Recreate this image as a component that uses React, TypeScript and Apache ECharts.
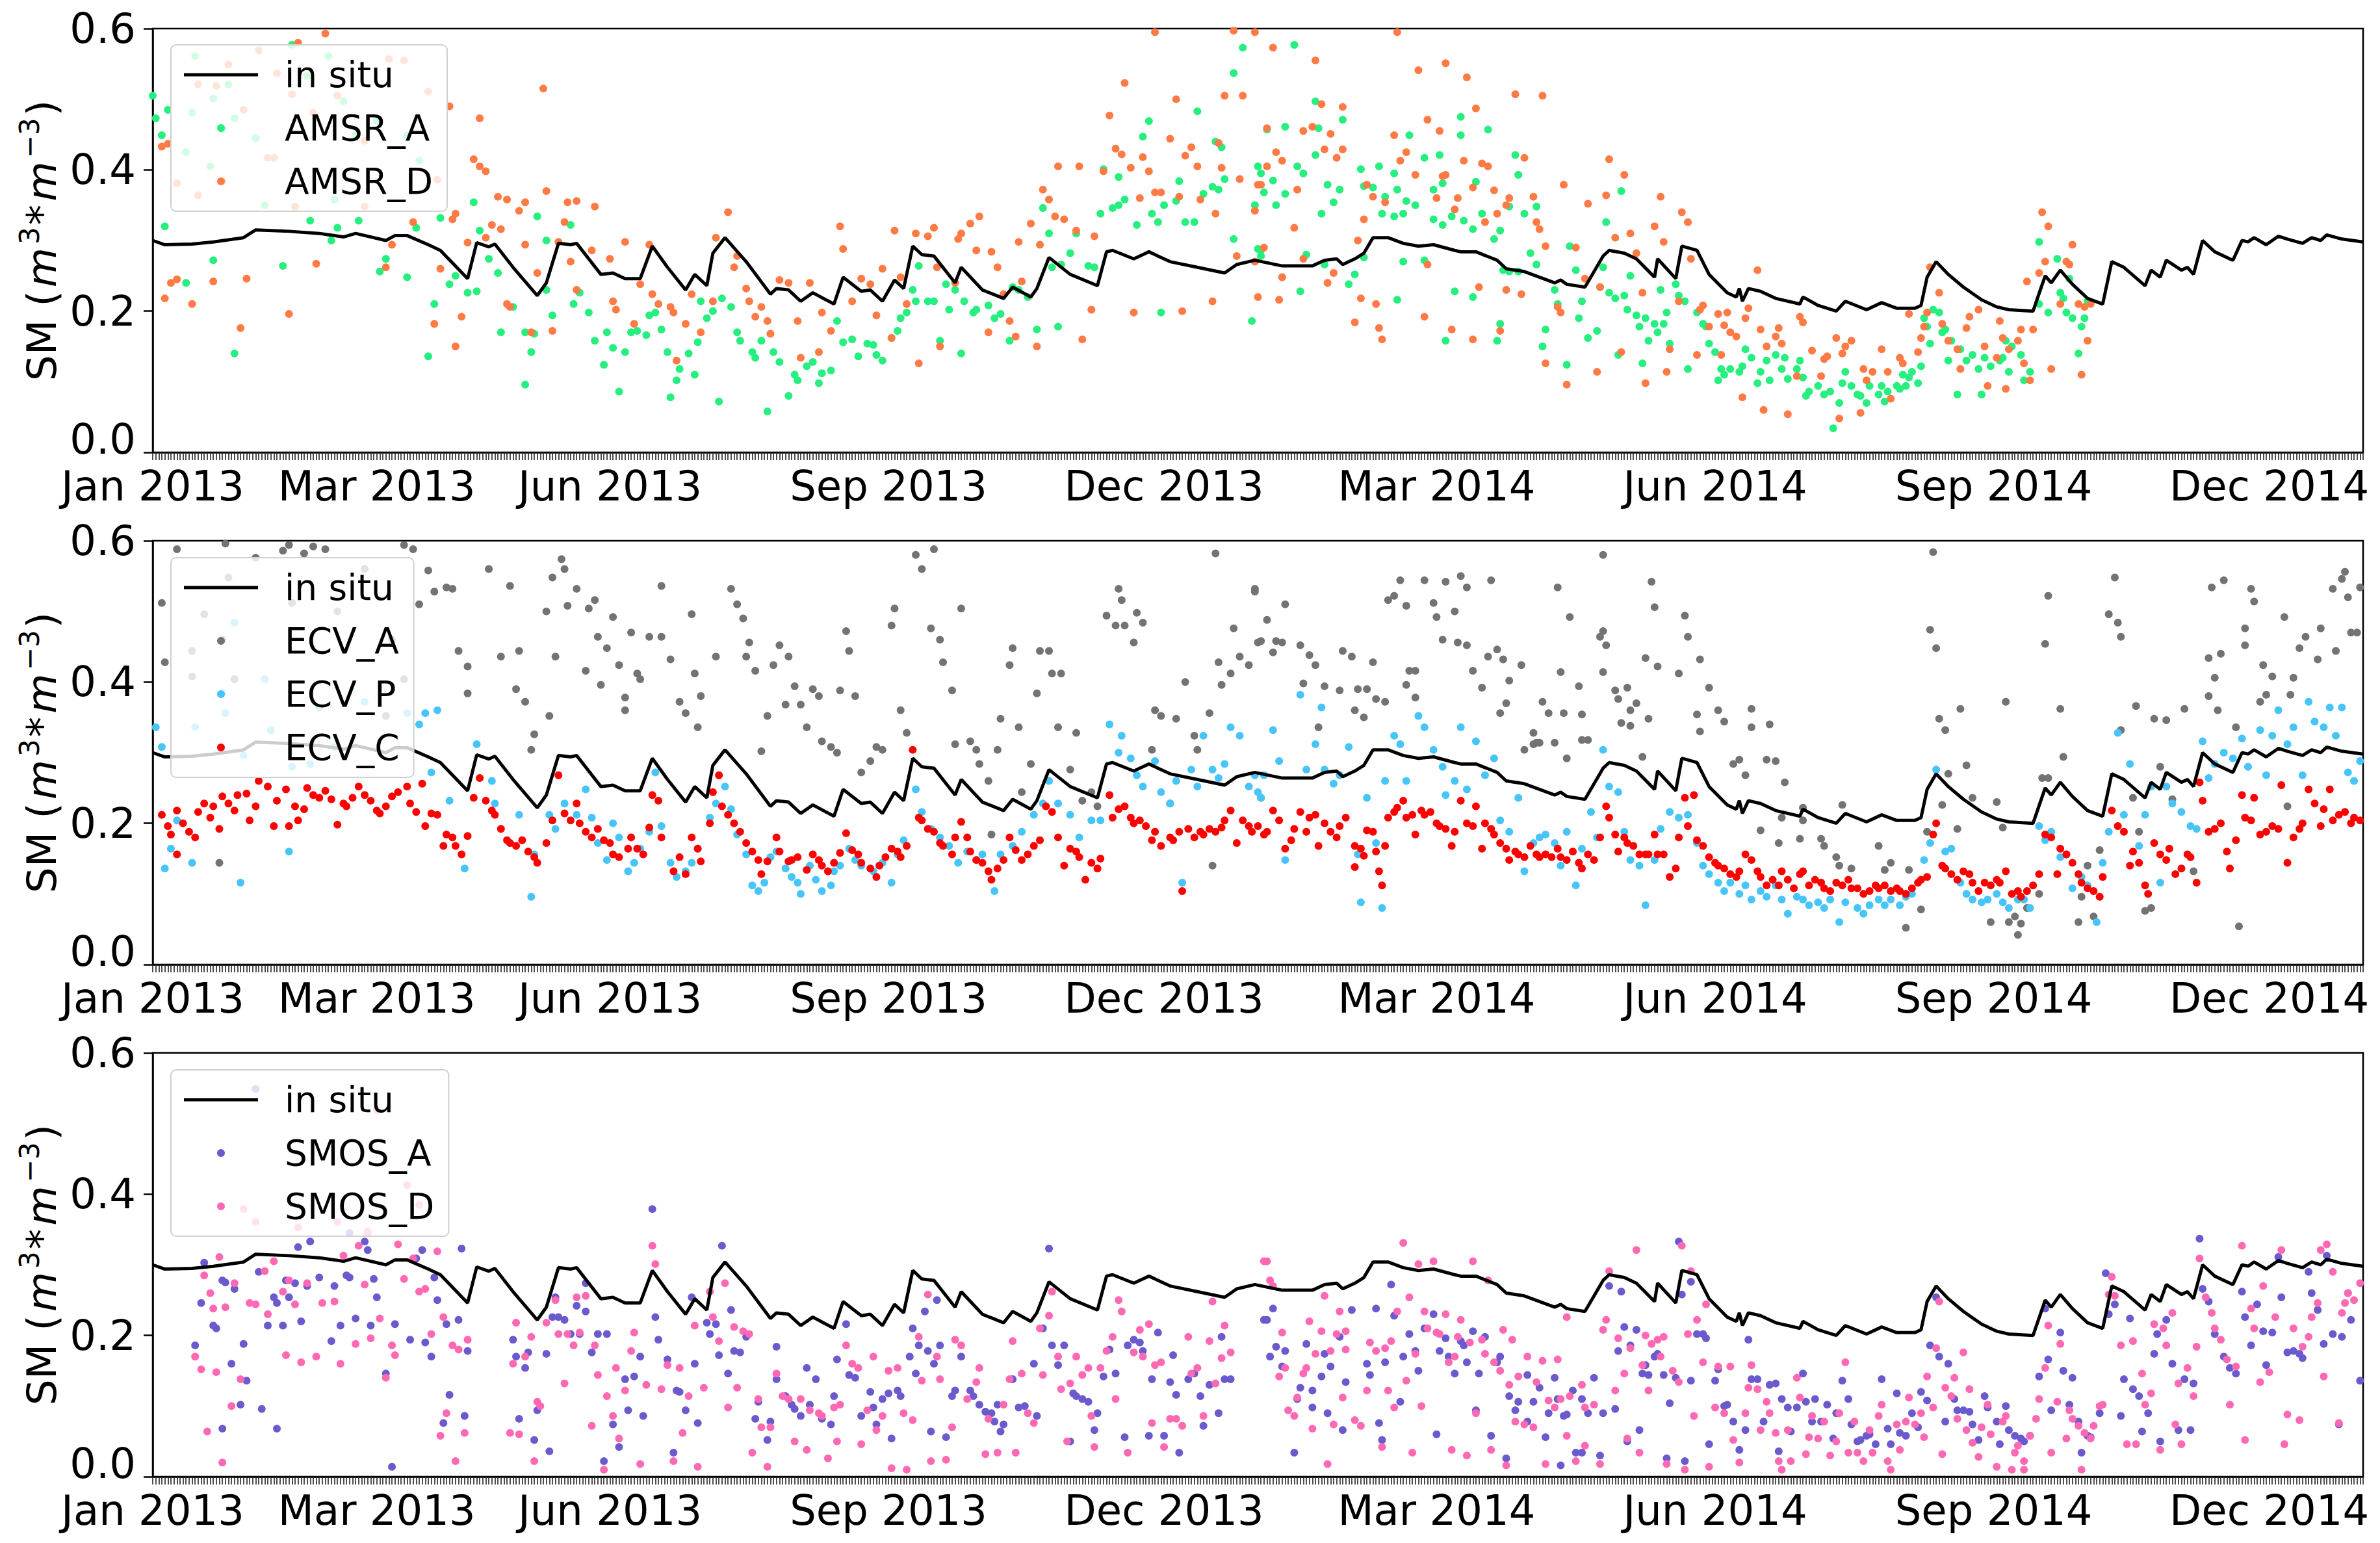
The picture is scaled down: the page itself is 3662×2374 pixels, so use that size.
import React, { useEffect, useRef } from 'react';
import * as echarts from 'echarts';

// ---------- axis ticks / labels ----------
const X_LABEL_DAYS = [0, 74, 151, 243, 334, 424, 516, 608, 699];
const X_LABELS = ['Jan 2013', 'Mar 2013', 'Jun 2013', 'Sep 2013', 'Dec 2013', 'Mar 2014', 'Jun 2014', 'Sep 2014', 'Dec 2014'];
const X_MIN_DAY = 0;
const X_MAX_DAY = 730;
const Y_MIN = 0;
const Y_MAX = 0.6;
const Y_STEP = 0.2;

// ---------- data: flat [day, value, day, value, ...], day 0 = 2013-01-01 ----------
const IN_SITU = [0,.300,4,.294,13,.295,20,.298,30,.304,34,.315,45,.313,55,.31,63,.305,67,.31,77,.30,80,.307,84,.307,91,.294,95,.286,104,.246,107,.297,111,.291,113,.295,119,.262,127,.222,130,.24,134,.296,138,.294,140,.296,148,.252,152,.254,156,.246,161,.246,165,.292,170,.262,176,.23,179,.252,183,.236,185,.282,189,.304,196,.27,204,.224,206,.232,210,.23,214,.214,218,.226,225,.21,228,.248,234,.228,237,.23,241,.214,245,.244,248,.232,251,.292,254,.28,258,.278,265,.24,267,.262,274,.23,281,.218,284,.234,290,.22,292,.232,296,.276,303,.252,312,.236,315,.284,317,.286,324,.274,327,.28,329,.284,336,.27,345,.262,354,.254,358,.266,364,.272,373,.264,383,.264,387,.272,391,.274,393,.266,397,.274,400,.282,403,.304,408,.304,413,.296,418,.292,423,.294,430,.286,432,.284,437,.284,444,.272,447,.26,453,.256,463,.24,465,.244,467,.238,473,.234,479,.278,481,.286,486,.282,490,.274,496,.248,497,.274,503,.246,505,.292,510,.286,514,.252,520,.226,523,.22,524,.232,525,.214,527,.232,531,.228,536,.218,544,.21,545,.22,550,.208,556,.2,559,.214,566,.202,571,.212,576,.204,582,.204,584,.208,586,.248,589,.27,593,.252,598,.234,604,.216,609,.206,613,.202,621,.2,625,.25,627,.24,630,.258,634,.238,639,.218,644,.21,647,.27,651,.262,658,.236,660,.258,663,.248,665,.272,670,.258,672,.262,674,.252,677,.3,681,.284,687,.272,690,.3,692,.298,694,.304,698,.294,702,.306,705,.302,710,.296,713,.304,716,.3,718,.308,723,.302,730,.298];

const AMSR_A = [0,.505,1,.473,5,.485,3,.449,4,.32,23,.457,20,.272,11,.24,27,.14,43,.264,52,.328,61,.318,68,.328,59,.3,75,.256,77,.274,84,.248,87,.318,91,.136,93,.21,95,.332,106,.354,108,.314,100,.25,98,.238,104,.226,107,.228,111,.274,114,.254,115,.17,119,.206,123,.17,123,.096,126,.168,125,.142,127,.334,130,.3,130,.23,132,.194,138,.322,139,.21,141,.226,144,.198,146,.158,149,.124,150,.17,152,.148,154,.086,156,.142,158,.17,160,.172,163,.166,164,.194,166,.198,168,.174,170,.142,171,.078,173,.102,174,.118,177,.14,179,.11,180,.156,181,.214,183,.19,185,.2,187,.072,188,.218,191,.206,193,.17,194,.158,198,.142,199,.134,201,.158,203,.058,205,.142,207,.128,210,.08,212,.11,213,.102,216,.122,218,.128,220,.098,221,.112,224,.116,226,.186,228,.156,231,.16,233,.136,236,.154,238,.152,239,.138,241,.13,244,.162,246,.172,247,.19,249,.198,251,.23,252,.214,253,.264,256,.214,258,.214,260,.158,262,.238,263,.202,265,.23,267,.14,268,.214,271,.198,272,.202,276,.208,278,.19,280,.196,283,.158,284,.234,286,.23,289,.22,292,.174,294,.346,296,.31,297,.262,299,.178,300,.266,303,.282,305,.31,309,.264,311,.262,313,.338,314,.401,317,.346,319,.35,319,.39,321,.358,325,.322,327,.447,329,.469,330,.338,332,.326,333,.198,334,.35,338,.356,339,.384,341,.326,344,.326,345,.483,347,.366,350,.376,351,.44,352,.372,353,.432,354,.387,357,.537,357,.302,360,.573,363,.186,365,.405,366,.278,365,.288,
14,.561,20,.501,27,.473,34,.445,19,.405,46,.577,51,.533,58,.561,63,.497,67,.449,74,.469,84,.449,88,.413,37,.35,60,.358,11,.425,25,.521,13,.481,
377,.577,384,.497,393,.471,368,.457,374,.461,385,.459,366,.395,367,.368,370,.385,378,.405,380,.395,384,.421,364,.35,371,.35,374,.366,386,.338,388,.379,392,.372,390,.354,399,.401,400,.377,403,.375,405,.405,407,.362,410,.395,411,.372,414,.356,415,.449,417,.35,406,.338,410,.334,413,.338,420,.417,423,.372,425,.421,426,.381,423,.33,426,.322,429,.334,432,.475,432,.449,433,.328,436,.316,437,.383,439,.338,441,.457,443,.302,445,.314,448,.348,451,.393,450,.421,453,.338,457,.348,366,.286,381,.28,387,.266,373,.248,379,.228,395,.238,397,.252,400,.276,413,.27,420,.272,411,.216,430,.228,427,.158,436,.22,444,.158,445,.182,446,.258,448,.256,451,.256,455,.282,457,.266,460,.174,459,.15,463,.23,464,.21,467,.124,468,.292,470,.258,471,.19,472,.214,474,.162,477,.172,478,.234,479,.262,480,.326,481,.226,483,.218,484,.138,485,.37,486,.222,487,.202,488,.25,490,.194,491,.178,492,.126,493,.19,494,.158,496,.182,497,.17,498,.23,499,.182,500,.198,501,.154,503,.238,504,.222,506,.214,507,.118,510,.198,512,.182,513,.178,514,.154,516,.142,517,.102,518,.118,519,.11,521,.118,524,.114,525,.122,526,.146,528,.134,530,.098,531,.114,533,.13,534,.102,536,.138,538,.118,539,.134,540,.104,543,.118,544,.13,545,.106,546,.08,547,.086,550,.094,552,.082,554,.086,555,.034,557,.07,558,.098,559,.114,561,.094,563,.082,564,.08,566,.07,567,.094,570,.082,571,.094,572,.072,573,.086,576,.094,577,.09,578,.11,579,.094,580,.106,581,.114,583,.098,584,.122,585,.19,586,.178,587,.154,588,.202,590,.198,591,.17,592,.174,593,.13,594,.158,596,.082,597,.146,599,.13,601,.138,603,.118,604,.082,605,.134,607,.122,610,.13,611,.134,612,.158,613,.114,614,.15,617,.138,618,.102,620,.114,623,.21,623,.298,626,.198,629,.274,630,.226,631,.218,632,.198,633,.246,634,.19,636,.14,637,.178,638,.19,639,.214];

const AMSR_D = [3,.433,5,.437,6,.24,8,.245,4,.218,13,.21,20,.242,31,.246,29,.176,45,.196,54,.267,23,.384,48,.58,57,.593,98,.49,108,.473,106,.415,108,.405,110,.398,129,.515,130,.37,114,.362,117,.358,121,.342,123,.354,137,.354,140,.356,136,.326,146,.348,100,.338,99,.33,86,.326,79,.294,77,.262,95,.26,93,.182,100,.15,102,.192,104,.297,112,.322,115,.316,110,.304,123,.294,117,.21,118,.206,125,.17,127,.254,132,.172,134,.298,138,.27,140,.23,145,.286,151,.274,152,.214,153,.202,156,.298,159,.182,161,.238,164,.294,165,.224,167,.21,171,.206,172,.198,173,.13,176,.182,178,.224,181,.17,185,.214,186,.304,190,.34,192,.262,193,.278,196,.232,197,.214,199,.192,201,.206,203,.186,204,.168,207,.244,210,.24,213,.186,214,.134,217,.24,220,.142,221,.198,224,.172,227,.32,228,.288,231,.214,234,.246,237,.238,239,.194,241,.26,244,.162,245,.314,247,.248,249,.21,252,.31,253,.126,256,.306,258,.318,259,.262,260,.15,265,.24,266,.302,267,.31,270,.324,272,.286,273,.334,276,.17,277,.284,279,.262,281,.224,283,.186,285,.164,286,.298,287,.242,290,.324,292,.15,293,.294,294,.372,296,.358,298,.334,299,.405,301,.33,305,.314,306,.405,307,.16,310,.202,311,.306,314,.398,316,.477,318,.43,320,.422,321,.523,323,.403,324,.198,326,.36,327,.418,329,.398,331,.368,333,.368,336,.444,338,.5,339,.362,340,.2,341,.42,343,.432,345,.405,346,.358,350,.214,351,.338,352,.438,353,.403,354,.505,357,.597,358,.278,359,.387,360,.505,365,.379,364,.27,331,.595,
15,.521,21,.519,30,.485,38,.417,40,.417,46,.507,53,.481,61,.505,70,.441,78,.557,83,.555,91,.511,8,.381,15,.364,47,.348,70,.348,94,.386,35,.569,41,.537,25,.549,
364,.595,370,.573,384,.555,411,.595,418,.541,427,.551,434,.531,437,.487,450,.507,459,.505,368,.459,380,.455,383,.461,386,.493,393,.489,389,.451,371,.425,373,.413,387,.429,391,.417,393,.429,368,.405,366,.379,378,.372,364,.342,377,.318,367,.29,380,.274,388,.24,390,.254,373,.248,365,.22,372,.216,398,.3,399,.218,404,.21,405,.176,406,.16,397,.184,401,.379,403,.362,400,.33,407,.354,410,.449,412,.413,414,.425,417,.393,420,.192,421,.266,421,.471,425,.455,426,.391,427,.393,424,.36,430,.344,431,.36,433,.413,436,.375,439,.409,441,.405,440,.326,443,.371,444,.338,447,.35,448,.36,429,.174,436,.16,438,.234,445,.172,447,.23,452,.224,453,.417,456,.362,457,.326,458,.316,460,.292,460,.126,464,.206,465,.198,466,.379,467,.096,470,.29,473,.246,474,.352,477,.114,478,.234,480,.364,481,.415,483,.304,485,.142,486,.393,488,.31,490,.282,492,.226,493,.098,496,.32,498,.362,499,.298,500,.114,501,.146,504,.214,505,.34,507,.326,508,.274,510,.138,511,.202,512,.208,514,.178,517,.196,518,.138,519,.18,520,.198,521,.17,523,.164,525,.078,526,.19,527,.204,530,.258,531,.174,532,.06,533,.15,536,.164,537,.176,538,.154,540,.054,543,.108,544,.192,545,.184,548,.144,551,.108,552,.132,553,.136,556,.162,557,.048,558,.14,559,.15,561,.158,564,.056,565,.118,566,.102,568,.114,571,.146,573,.114,574,.076,577,.134,578,.126,580,.196,583,.142,584,.162,585,.178,586,.198,587,.262,590,.226,591,.182,593,.158,596,.146,597,.118,599,.176,600,.192,603,.202,605,.15,606,.094,609,.134,610,.186,611,.162,612,.09,613,.146,616,.158,617,.174,618,.126,619,.242,620,.102,621,.174,623,.254,624,.34,625,.27,626,.32,627,.118,630,.21,632,.27,633,.266,634,.294,636,.21,637,.11,638,.206,639,.158,640,.21];

const ECV_A = [8,.588,24,.596,43,.586,45,.594,50,.582,53,.592,57,.588,83,.594,86,.588,88,.51,91,.558,93,.528,97,.534,99,.532,101,.444,104,.422,104,.384,111,.56,115,.436,118,.536,120,.39,121,.444,123,.372,125,.304,126,.326,130,.5,131,.352,132,.548,133,.436,135,.574,136,.56,137,.508,140,.532,143,.416,144,.504,146,.516,147,.464,148,.396,150,.448,152,.492,154,.424,156,.36,156,.378,158,.47,160,.412,161,.404,164,.464,168,.536,168,.464,171,.432,174,.372,176,.356,178,.496,179,.412,180,.336,181,.38,186,.436,191,.532,193,.51,195,.49,196,.436,197,.456,199,.416,201,.302,203,.352,205,.424,207,.452,209,.368,210,.436,212,.394,214,.368,216,.336,218,.39,220,.38,221,.316,224,.308,226,.3,227,.388,229,.472,230,.444,232,.38,234,.272,237,.288,239,.308,241,.304,244,.48,245,.504,247,.36,249,.328,252,.58,254,.56,257,.476,258,.588,260,.46,261,.428,264,.388,265,.312,267,.504,270,.316,272,.304,273,.284,276,.26,277,.184,279,.304,280,.348,283,.424,284,.448,286,.336,287,.244,290,.284,292,.384,293,.444,296,.444,297,.412,299,.336,300,.412,303,.276,305,.328,307,.232,310,.244,312,.224,315,.494,318,.48,319,.532,320,.516,321,.48,324,.456,325,.498,327,.484,330,.304,331,.36,333,.352,336,.228,338,.348,341,.4,344,.324,345,.304,349,.356,350,.14,351,.582,352,.428,353,.396,356,.412,357,.476,359,.436,362,.424,364,.528,365,.456,366,.236,22,.144,
3,.512,4,.428,13,.444,17,.496,23,.46,25,.548,34,.576,46,.512,61,.5,70,.56,79,.46,13,.408,27,.404,77,.352,83,.404,
364,.532,368,.488,366,.458,371,.458,373,.456,370,.442,374,.51,379,.452,382,.438,384,.424,380,.398,387,.394,392,.388,398,.39,401,.39,393,.444,396,.436,403,.428,404,.376,407,.372,397,.36,400,.35,385,.336,408,.516,410,.522,412,.544,414,.508,420,.544,423,.512,424,.492,427,.542,430,.5,432,.55,434,.534,442,.544,415,.416,417,.416,414,.396,417,.378,426,.46,431,.456,434,.452,436,.416,439,.392,441,.436,444,.446,446,.432,448,.402,452,.424,445,.356,447,.37,456,.328,457,.314,459,.372,461,.356,463,.314,464,.534,465,.414,466,.356,468,.492,471,.394,472,.318,472,.354,474,.318,478,.464,479,.472,479,.58,480,.452,479,.414,483,.388,484,.376,485,.342,487,.392,488,.36,490,.37,488,.338,494,.348,493,.434,495,.542,496,.506,497,.422,504,.412,506,.494,507,.464,511,.432,514,.392,510,.354,511,.33,517,.36,519,.344,528,.362,528,.336,534,.34,522,.284,524,.29,526,.268,533,.29,536,.288,492,.294,467,.292,456,.312,453,.304,458,.314,539,.258,545,.222,558,.226,531,.19,538,.208,545,.204,537,.172,544,.178,551,.178,556,.152,552,.168,561,.136,557,.14,570,.168,574,.144,572,.134,579,.052,580,.134,584,.078,586,.188,587,.474,588,.584,589,.448,590,.348,592,.332,593,.27,591,.226,596,.192,597,.362,599,.282,601,.236,609,.23,611,.194,612,.372,607,.06,613,.06,615,.068,616,.042,617,.058,619,.08,623,.1,624,.264,626,.264,625,.454,626,.522,630,.362,631,.294,636,.06,637,.096,639,.14,641,.068,643,.162,646,.496,648,.548,649,.484,650,.464,650,.332,654,.236,655,.366,656,.188,658,.076,660,.08,661,.348,663,.28,665,.346,667,.234,671,.362,674,.132,679,.38,679,.434,681,.406,682,.36,680,.534,684,.544,683,.44,688,.336,689,.054,691,.452,691,.476,693,.532,694,.514,696,.372,697,.424,698,.382,700,.408,704,.492,705,.224,706,.382,707,.406,709,.448,711,.464,715,.432,716,.476,720,.532,721,.444,723,.546,724,.556,725,.52,726,.47,728,.47,729,.534];

const ECV_P = [1,.336,3,.308,4,.136,6,.164,8,.204,13,.144,23,.384,29,.116,45,.16,90,.356,88,.34,94,.36,92,.272,98,.232,103,.136,107,.312,112,.26,113,.228,118,.172,121,.212,125,.096,126,.156,131,.212,133,.192,136,.228,140,.212,143,.248,145,.208,147,.172,150,.148,152,.2,154,.18,157,.132,159,.144,161,.164,164,.188,166,.272,168,.196,171,.144,173,.124,176,.132,178,.144,180,.164,184,.208,186,.228,189,.252,191,.22,193,.184,196,.156,198,.112,200,.104,202,.116,204,.152,206,.16,209,.136,211,.124,213,.116,214,.1,217,.14,219,.12,221,.104,224,.112,225,.132,227,.14,230,.164,232,.148,234,.14,238,.132,241,.144,244,.116,246,.156,248,.176,252,.248,254,.216,257,.192,260,.18,263,.168,266,.144,269,.16,272,.148,274,.156,278,.104,280,.156,284,.168,287,.188,291,.212,294,.228,296,.26,299,.228,303,.212,306,.18,310,.204,313,.204,316,.34,319,.3,320,.324,323,.292,325,.268,327,.252,331,.288,333,.244,336,.228,338,.26,340,.116,343,.276,345,.252,347,.324,350,.276,352,.264,354,.284,356,.336,359,.324,362,.252,364,.268,366,.236,
27,.484,37,.404,24,.356,39,.332,55,.364,70,.372,84,.356,14,.336,52,.284,60,.308,30,.296,46,.28,
365,.244,367,.268,370,.332,372,.288,374,.148,379,.382,381,.276,384,.312,386,.364,387,.276,390,.256,392,.268,395,.308,398,.156,399,.088,401,.236,404,.172,406,.08,407,.26,410,.324,412,.312,414,.26,418,.352,420,.336,423,.304,426,.28,427,.24,430,.26,432,.336,434,.248,437,.316,440,.268,443,.292,445,.204,448,.188,451,.236,453,.132,456,.172,458,.18,460,.184,463,.172,465,.14,467,.188,470,.112,472,.164,475,.216,477,.18,479,.304,481,.252,484,.244,486,.188,488,.148,491,.14,493,.084,496,.148,498,.192,501,.216,504,.208,507,.212,510,.172,512,.14,514,.128,517,.116,519,.104,521,.116,524,.1,526,.112,528,.092,531,.104,533,.096,536,.112,538,.092,540,.072,543,.096,545,.092,547,.084,550,.088,552,.08,554,.092,557,.06,559,.088,563,.08,565,.072,567,.084,570,.092,572,.084,574,.092,577,.084,579,.096,581,.1,585,.148,587,.172,589,.276,592,.16,594,.164,597,.116,599,.1,601,.092,604,.088,606,.092,609,.1,611,.088,613,.08,616,.092,618,.092,620,.08,623,.196,625,.176,627,.188,630,.152,632,.156,634,.108,637,.124,639,.112,642,.06,644,.144,646,.188,649,.328,651,.212,653,.284,656,.168,658,.212,660,.252,663,.116,665,.252,667,.228,670,.216,673,.196,675,.192,677,.316,679,.264,681,.284,684,.3,687,.292,690,.32,692,.28,696,.332,698,.268,700,.324,702,.36,705,.312,707,.336,710,.268,712,.372,714,.344,717,.336,719,.364,721,.324,723,.364,725,.272,727,.26,729,.288];

const ECV_C = [3,.212,5,.196,6,.184,8,.156,8,.218,10,.2,12,.188,14,.18,15,.216,17,.228,19,.208,20,.224,22,.192,23,.238,25,.228,27,.218,28,.24,31,.242,32,.204,34,.224,35,.26,38,.252,40,.196,41,.232,44,.248,45,.196,47,.224,48,.204,50,.22,51,.25,53,.24,55,.236,57,.246,59,.234,61,.198,63,.228,64,.224,66,.236,68,.252,70,.24,72,.232,74,.218,75,.214,77,.224,79,.238,81,.244,84,.252,85,.228,87,.216,89,.256,90,.196,92,.214,94,.212,96,.168,97,.184,99,.18,100,.168,102,.156,104,.182,106,.236,108,.264,110,.232,112,.218,113,.212,115,.192,117,.176,118,.172,120,.168,122,.176,124,.16,126,.152,127,.144,130,.172,132,.204,134,.268,136,.214,138,.204,140,.228,141,.2,143,.188,145,.18,147,.192,149,.176,151,.172,152,.156,154,.152,157,.164,158,.18,160,.164,162,.156,164,.194,165,.24,167,.232,168,.18,172,.132,174,.152,176,.128,178,.18,180,.164,181,.146,184,.2,185,.244,187,.268,188,.224,190,.212,192,.2,194,.188,196,.172,198,.16,200,.148,201,.128,203,.146,206,.18,207,.16,210,.146,211,.148,213,.152,216,.134,218,.156,220,.148,221,.14,223,.132,225,.144,227,.158,229,.186,231,.162,233,.156,234,.144,237,.136,239,.124,240,.14,242,.152,244,.164,246,.16,247,.152,249,.168,251,.304,253,.208,254,.204,256,.192,258,.188,260,.172,261,.168,264,.156,265,.18,267,.202,269,.18,270,.16,272,.148,274,.144,276,.132,277,.12,279,.136,281,.148,283,.18,285,.162,287,.148,289,.156,291,.168,293,.176,295,.224,297,.216,299,.18,301,.14,303,.164,305,.16,306,.152,308,.12,310,.144,312,.136,313,.15,316,.24,317,.208,319,.22,321,.224,323,.208,324,.2,326,.204,328,.196,330,.176,331,.188,333,.168,336,.18,337,.176,339,.188,340,.104,342,.192,344,.18,346,.188,347,.184,349,.192,351,.188,353,.194,354,.204,356,.218,358,.172,360,.204,362,.196,363,.188,365,.196,
367,.184,368,.188,370,.218,372,.204,374,.164,376,.176,377,.192,379,.216,381,.188,382,.208,384,.212,385,.168,387,.2,389,.188,391,.18,392,.196,394,.208,397,.168,399,.164,400,.154,397,.138,401,.19,403,.188,404,.16,405,.132,406,.112,407,.168,408,.208,410,.216,411,.222,413,.232,414,.208,416,.212,417,.184,419,.218,420,.212,422,.216,424,.2,425,.196,427,.192,429,.168,430,.188,432,.232,434,.2,436,.196,437,.224,439,.164,440,.2,442,.192,443,.184,445,.172,447,.164,448,.148,450,.16,451,.156,453,.152,455,.168,457,.156,458,.152,460,.156,462,.152,464,.164,465,.152,467,.148,469,.16,471,.144,472,.136,474,.156,476,.148,478,.18,480,.224,481,.208,483,.184,484,.16,486,.18,487,.172,489,.168,491,.156,493,.156,494,.156,496,.184,497,.156,499,.156,501,.124,503,.136,504,.18,506,.236,507,.196,509,.24,510,.176,512,.168,514,.152,516,.144,517,.14,519,.136,521,.128,523,.124,524,.132,526,.156,528,.148,530,.132,531,.124,533,.112,535,.12,537,.112,538,.132,540,.12,542,.108,544,.128,545,.132,547,.112,549,.12,551,.116,552,.108,554,.104,556,.116,558,.112,560,.12,561,.108,563,.108,565,.1,567,.104,569,.112,570,.108,572,.112,574,.104,576,.108,577,.104,579,.1,581,.108,583,.116,584,.12,586,.124,588,.184,589,.2,591,.14,592,.136,594,.128,596,.12,598,.132,600,.128,601,.116,603,.104,605,.116,607,.112,609,.12,610,.116,612,.132,614,.1,616,.104,617,.096,619,.104,621,.112,623,.128,625,.184,627,.18,629,.128,630,.164,632,.156,634,.144,636,.128,637,.116,639,.108,641,.104,643,.096,644,.124,647,.218,649,.196,651,.188,653,.14,654,.16,656,.144,658,.112,659,.1,661,.172,663,.156,665,.148,666,.164,668,.128,670,.136,672,.156,673,.152,675,.116,676,.258,677,.232,679,.188,681,.192,683,.2,685,.16,686,.136,688,.176,690,.24,691,.208,693,.204,694,.236,696,.184,698,.188,700,.196,702,.192,703,.254,705,.144,707,.18,709,.192,710,.2,712,.248,714,.228,716,.196,717,.22,719,.248,720,.204,722,.212,724,.216,726,.2,727,.208,729,.204];

const SMOS_A = [14,.186,16,.246,17,.303,20,.214,21,.21,23,.278,23,.068,24,.275,26,.16,27,.266,29,.102,30,.188,31,.136,35,.29,36,.096,38,.214,40,.254,41,.246,41,.068,43,.214,44,.278,45,.254,47,.274,48,.325,49,.22,51,.27,52,.333,55,.282,59,.192,60,.27,62,.214,64,.285,65,.282,67,.224,70,.333,71,.321,72,.214,73,.28,74,.254,77,.146,79,.014,80,.216,85,.194,87,.309,89,.321,90,.19,92,.17,93,.282,94,.25,96,.076,97,.216,98,.116,101,.222,102,.323,103,.086,104,.178,119,.194,120,.17,121,.082,123,.154,124,.176,126,.052,127,.094,130,.174,131,.036,132,.226,133,.254,134,.226,136,.222,138,.202,140,.242,141,.202,143,.234,143,.274,145,.176,147,.202,149,.022,150,.202,152,.074,154,.042,156,.138,157,.094,159,.142,161,.17,162,.086,165,.379,166,.226,167,.194,170,.166,172,.034,173,.122,174,.12,176,.094,178,.254,179,.16,180,.076,183,.218,184,.202,186,.216,187,.172,188,.327,190,.146,191,.236,192,.178,194,.176,196,.198,199,.082,200,.106,203,.052,204,.078,206,.184,206,.138,209,.114,211,.102,212,.096,214,.086,216,.154,217,.102,219,.138,221,.082,224,.074,225,.114,226,.166,229,.216,230,.144,232,.14,234,.086,237,.12,238,.098,239,.074,241,.11,243,.118,244,.054,246,.122,247,.114,250,.17,251,.21,252,.146,253,.186,255,.234,256,.178,257,.064,258,.16,259,.25,260,.186,262,.056,264,.114,265,.122,267,.17,270,.122,271,.114,273,.102,275,.092,277,.09,278,.078,279,.102,280,.064,281,.074,284,.138,286,.098,288,.1,291,.16,292,.086,294,.21,296,.323,297,.186,299,.158,301,.186,303,.05,304,.118,305,.114,307,.11,309,.106,311,.066,312,.09,314,.142,316,.18,318,.146,321,.056,322,.186,324,.194,326,.19,327,.178,329,.058,330,.138,332,.204,334,.058,336,.134,337,.172,338,.116,339,.034,342,.138,344,.146,346,.114,347,.072,349,.13,352,.09,353,.198,354,.138,356,.138,367,.222,34,.549,65,.345,
368,.222,370,.238,369,.17,371,.184,373,.156,374,.178,377,.034,378,.11,379,.126,381,.188,383,.122,383,.098,386,.142,387,.174,388,.09,389,.156,392,.198,393,.066,394,.134,396,.236,401,.16,402,.144,404,.238,405,.076,406,.052,407,.162,409,.272,410,.228,412,.106,413,.17,415,.202,417,.178,418,.15,420,.21,423,.23,424,.06,425,.178,427,.196,428,.17,430,.146,432,.192,433,.186,434,.162,436,.206,438,.146,437,.094,440,.198,442,.058,444,.162,445,.17,447,.026,448,.114,450,.094,451,.106,454,.144,454,.078,456,.106,458,.126,460,.056,461,.09,463,.14,464,.11,465,.016,466,.086,467,.088,469,.122,470,.034,472,.11,472,.034,474,.09,476,.14,478,.03,479,.09,481,.27,483,.096,484,.178,485,.262,486,.212,487,.05,488,.186,490,.208,491,.066,492,.146,493,.158,494,.144,496,.17,497,.174,499,.144,500,.026,501,.104,503,.14,504,.333,505,.258,506,.022,508,.276,508,.136,510,.202,512,.202,513,.196,514,.046,516,.136,517,.152,519,.1,520,.102,522,.078,524,.038,526,.066,527,.194,528,.138,530,.138,532,.078,534,.13,536,.132,537,.036,538,.11,540,.098,541,.064,543,.098,545,.146,546,.106,548,.078,549,.11,551,.078,553,.102,555,.054,556,.09,558,.136,560,.11,561,.074,563,.05,564,.052,566,.058,567,.06,569,.046,571,.138,573,.068,574,.046,576,.118,577,.062,579,.058,581,.09,583,.07,584,.12,586,.108,587,.186,589,.254,590,.17,592,.078,593,.16,595,.11,596,.094,598,.094,600,.092,601,.074,603,.052,605,.114,606,.098,609,.078,610,.046,612,.1,613,.066,615,.058,617,.054,618,.05,620,.058,623,.142,625,.238,626,.166,627,.094,630,.204,631,.15,633,.102,634,.14,636,.078,637,.034,639,.058,640,.056,643,.09,645,.288,646,.23,648,.244,650,.086,651,.138,653,.224,654,.124,656,.114,657,.064,659,.09,661,.174,662,.202,663,.05,665,.222,667,.16,669,.066,671,.138,673,.066,674,.132,676,.337,677,.266,679,.248,681,.202,684,.17,686,.154,688,.146,690,.262,691,.226,693,.186,695,.244,697,.206,698,.158,700,.204,702,.311,703,.254,705,.176,707,.178,709,.174,710,.168,712,.29,713,.26,715,.236,717,.188,718,.313,720,.202,722,.074,723,.198,725,.26,726,.222,729,.136];

const SMOS_D = [14,.17,16,.152,17,.285,18,.064,19,.26,20,.238,21,.148,22,.311,23,.02,24,.24,26,.1,27,.274,29,.138,32,.246,34,.244,37,.291,38,.23,40,.305,43,.262,44,.172,45,.278,47,.244,49,.162,51,.274,54,.17,56,.246,60,.248,62,.16,63,.313,67,.188,68,.327,70,.272,71,.345,72,.196,75,.224,77,.14,79,.186,80,.172,81,.329,83,.28,86,.309,88,.262,90,.266,92,.202,94,.319,95,.058,96,.226,97,.09,99,.186,100,.022,101,.18,103,.062,104,.194,118,.062,119,.16,120,.218,121,.06,123,.17,125,.198,126,.022,127,.106,128,.1,130,.218,133,.25,134,.202,136,.132,137,.202,139,.186,140,.254,141,.204,143,.256,145,.072,146,.186,147,.144,149,.01,150,.114,152,.086,153,.154,154,.054,156,.122,158,.178,159,.204,161,.018,163,.13,165,.327,166,.301,168,.124,170,.158,172,.022,174,.154,175,.062,177,.114,179,.214,180,.014,182,.126,184,.262,185,.226,187,.192,189,.274,190,.098,192,.212,193,.126,195,.206,197,.202,198,.034,200,.11,201,.07,203,.014,204,.07,206,.146,208,.114,210,.11,212,.05,214,.11,216,.038,217,.094,220,.09,221,.086,223,.026,225,.098,226,.05,227,.102,229,.186,231,.16,233,.154,234,.046,236,.094,238,.17,239,.066,241,.086,243,.15,244,.012,246,.154,248,.09,249,.01,251,.08,253,.198,254,.136,256,.258,257,.022,259,.17,260,.138,262,.024,264,.07,265,.194,267,.186,269,.11,272,.134,273,.154,275,.032,276,.082,279,.034,281,.102,283,.138,284,.192,285,.034,287,.146,289,.09,291,.076,293,.21,294,.144,296,.228,297,.262,299,.17,300,.124,302,.05,303,.132,305,.17,307,.144,309,.154,310,.086,311,.042,313,.154,315,.178,317,.198,318,.11,319,.25,320,.234,322,.034,324,.176,326,.208,327,.17,329,.216,330,.076,331,.158,333,.162,334,.042,336,.082,338,.082,340,.072,342,.198,343,.146,345,.154,347,.086,349,.192,350,.248,351,.132,353,.168,354,.214,356,.176,367,.305,
30,.379,34,.361,48,.353,61,.361,71,.347,84,.413,88,.385,74,.519,
368,.305,369,.278,370,.27,372,.142,374,.154,373,.204,375,.094,377,.086,378,.112,380,.146,381,.154,382,.22,383,.068,384,.174,386,.206,387,.256,388,.018,389,.178,390,.074,391,.202,392,.234,393,.112,394,.206,394,.18,397,.08,399,.072,401,.122,402,.19,404,.178,406,.042,407,.182,408,.122,409,.192,410,.098,411,.234,413,.331,414,.136,415,.254,416,.034,417,.174,418,.301,419,.1,420,.234,421,.21,423,.305,424,.204,425,.202,427,.23,428,.162,429,.038,430,.17,431,.198,432,.222,434,.03,435,.19,436,.305,437,.09,439,.194,440,.174,441,.278,442,.038,443,.162,445,.15,446,.208,447,.016,448,.13,449,.194,450,.078,451,.142,453,.074,454,.17,456,.07,457,.134,459,.164,460,.018,461,.108,463,.098,464,.166,465,.11,467,.058,467,.226,468,.114,470,.022,472,.13,473,.044,473,.098,476,.102,478,.018,479,.208,480,.222,481,.291,483,.122,484,.196,486,.146,487,.054,488,.182,490,.321,491,.034,492,.158,493,.2,494,.122,495,.188,497,.194,498,.17,499,.198,500,.018,502,.15,504,.134,505,.327,506,.01,507,.202,508,.291,509,.086,510,.222,512,.162,513,.244,514,.014,516,.098,517,.156,519,.09,521,.156,522,.052,524,.02,526,.09,527,.126,528,.158,530,.124,531,.066,533,.106,534,.09,536,.062,537,.022,538,.01,540,.066,541,.022,543,.14,544,.112,546,.032,547,.056,548,.086,550,.054,552,.078,554,.03,556,.05,557,.09,559,.162,560,.034,562,.078,563,.034,565,.022,567,.066,568,.034,570,.086,571,.102,573,.022,574,.01,576,.074,577,.038,579,.078,580,.112,582,.074,584,.09,585,.056,586,.142,588,.098,589,.182,590,.248,591,.032,592,.126,594,.114,595,.14,596,.082,598,.176,599,.066,600,.124,601,.048,603,.028,604,.07,606,.102,607,.06,609,.014,611,.078,612,.086,614,.01,615,.034,616,.044,618,.022,618,.01,620,.058,622,.082,623,.11,625,.154,626,.214,627,.034,629,.106,630,.188,632,.054,633,.094,634,.082,636,.072,637,.01,638,.062,640,.054,641,.072,643,.1,644,.102,646,.258,647,.283,648,.256,650,.186,652,.046,654,.192,655,.046,657,.146,658,.102,660,.118,661,.216,663,.038,664,.21,665,.186,667,.232,668,.074,669,.132,670,.046,672,.154,674,.114,675,.184,676,.309,678,.254,680,.232,681,.21,683,.194,685,.166,686,.102,688,.156,690,.327,691,.052,693,.238,694,.21,696,.134,697,.27,699,.148,701,.226,703,.321,704,.046,705,.088,707,.21,709,.08,710,.184,712,.198,713,.226,715,.246,716,.321,717,.142,718,.329,720,.29,722,.076,723,.232,724,.246,725,.26,727,.25,729,.274];

// ---------- helpers ----------
const pairs = (flat: number[]) => {
  const out: number[][] = [];
  for (let i = 0; i < flat.length; i += 2) out.push([flat[i], flat[i + 1]]);
  return out;
};

const FONT = 'DejaVu Sans';
const GRID_TOPS = [44, 832, 1620];
const LEGEND_TOPS = [69, 858, 1646];
const LINE_ICON = 'path://M0,0 L114,0 L114,5 L0,5 Z';

export default function App() {
  const ref = useRef<HTMLDivElement>(null);

  useEffect(() => {
    if (!ref.current) return;
    const chart = echarts.init(ref.current, null, { renderer: 'svg' });
    const dayTicks: number[] = [];
    for (let d = X_MIN_DAY; d <= X_MAX_DAY; d++) dayTicks.push(d);

    const grid = GRID_TOPS.map((top) => ({
      left: 235, top, width: 3401, height: 652,
      show: true, borderColor: '#000', borderWidth: 2.5, backgroundColor: 'rgba(0,0,0,0)',
    }));

    const xAxis = GRID_TOPS.map((_, i) => ({
      type: 'value', gridIndex: i, min: X_MIN_DAY, max: X_MAX_DAY,
      axisLine: { show: true, onZero: false, lineStyle: { color: '#000', width: 2.5 } },
      axisTick: { show: true, customValues: dayTicks, length: 12, lineStyle: { color: '#222', width: 1.6 } },
      axisLabel: {
        show: true, customValues: X_LABEL_DAYS,
        formatter: (v: number) => { const k = X_LABEL_DAYS.indexOf(Math.round(v)); return k >= 0 ? X_LABELS[k] : ''; },
        fontSize: 64, fontFamily: FONT, color: '#000', margin: 20, lineHeight: 64,
      },
      splitLine: { show: false },
    }));

    const nameRich = {
      a: { fontSize: 63, fontFamily: FONT, color: '#000', lineHeight: 80 },
      i: { fontSize: 63, fontFamily: FONT, color: '#000', fontStyle: 'italic', lineHeight: 80, padding: [0, 5, 0, 5] },
      s: { fontSize: 42, fontFamily: FONT, color: '#000', verticalAlign: 'top', lineHeight: 42, padding: [0, 3, 0, 0] },
    };

    const yAxis = GRID_TOPS.map((_, i) => ({
      type: 'value', gridIndex: i, min: Y_MIN, max: Y_MAX, interval: Y_STEP,
      axisLine: { show: true, lineStyle: { color: '#000', width: 2.5 } },
      axisTick: { show: true, length: 14, lineStyle: { color: '#000', width: 2.5 } },
      axisLabel: {
        formatter: (v: number) => v.toFixed(1), fontSize: 64, fontFamily: FONT, color: '#000', margin: 26,
        lineHeight: 40, verticalAlignMinLabel: 'bottom',
      },
      splitLine: { show: false },
      name: '{a|SM (}{i|m}{s|3}{a|*}{i|m}{s|\u22123}{a|)}',
      nameLocation: 'middle', nameGap: 128, nameRotate: 90,
      nameTextStyle: { fontSize: 63, fontFamily: FONT, color: '#000', rich: nameRich },
    }));

    const lineSeries = (i: number) => ({
      name: 'in situ', type: 'line', xAxisIndex: i, yAxisIndex: i, data: pairs(IN_SITU),
      symbol: 'none', showSymbol: false, lineStyle: { color: '#000', width: 5 }, itemStyle: { color: '#000' }, z: 4,
    });
    const scatter = (name: string, flat: number[], color: string, i: number, z: number) => ({
      name, type: 'scatter', xAxisIndex: i, yAxisIndex: i, data: pairs(flat),
      symbol: 'circle', symbolSize: 12, itemStyle: { color, opacity: 1 }, z,
    });

    const legendBase = {
      left: 263, orient: 'vertical', itemWidth: 114, itemHeight: 12, itemGap: 22,
      padding: [16, 22, 16, 20], backgroundColor: 'rgba(255,255,255,0.8)',
      borderColor: '#d0d0d0', borderWidth: 2, borderRadius: 8, selectedMode: false, z: 10,
      textStyle: { fontSize: 55, fontFamily: FONT, color: '#000', lineHeight: 60, padding: [0, 0, 0, 36] },
    };
    const situItem = { name: 'in situ', icon: LINE_ICON, itemStyle: { color: '#000' } };

    chart.setOption({
      animation: false,
      backgroundColor: '#fff',
      grid, xAxis, yAxis,
      legend: [
        { ...legendBase, top: LEGEND_TOPS[0], data: [situItem, 'AMSR_A', 'AMSR_D'] },
        { ...legendBase, top: LEGEND_TOPS[1], data: [situItem, 'ECV_A', 'ECV_P', 'ECV_C'] },
        { ...legendBase, top: LEGEND_TOPS[2], data: [situItem, 'SMOS_A', 'SMOS_D'] },
      ],
      series: [
        lineSeries(0),
        scatter('AMSR_A', AMSR_A, '#26ef7f', 0, 2),
        scatter('AMSR_D', AMSR_D, '#ff7a45', 0, 3),
        lineSeries(1),
        scatter('ECV_A', ECV_A, '#737373', 1, 2),
        scatter('ECV_P', ECV_P, '#48c5f8', 1, 2),
        scatter('ECV_C', ECV_C, '#ff0000', 1, 3),
        lineSeries(2),
        scatter('SMOS_A', SMOS_A, '#6a5acd', 2, 2),
        scatter('SMOS_D', SMOS_D, '#ff69b4', 2, 3),
      ],
    });
    return () => chart.dispose();
  }, []);

  return (
    <div
      ref={ref}
      style={{ position: 'absolute', left: 0, top: 0, width: 3662, height: 2374, background: '#fff' }}
    />
  );
}
